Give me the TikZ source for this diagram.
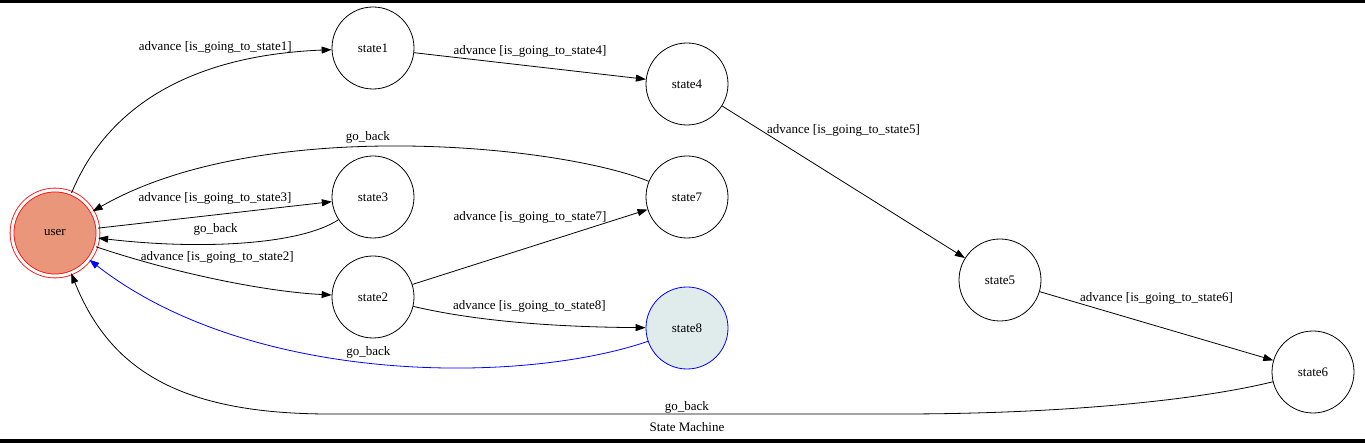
\documentclass[tikz,border=0pt]{standalone}
\usepackage{fontspec}
\setmainfont{Liberation Serif}
\usetikzlibrary{arrows.meta}
\definecolor{userfill}{RGB}{233,150,122}
\definecolor{endfill}{RGB}{224,236,236}
\newcommand{\adv}[1]{advance [is\_going\_to\_#1]}

\begin{document}
\begin{tikzpicture}[x=1pt, y=-1pt, >={Triangle[length=10pt, width=7pt]},
        font=\fontsize{13}{15}\selectfont, line width=0.8pt,
        state/.style={draw, circle, minimum size=82pt, inner sep=0pt},
        lbl/.style={inner sep=1.5pt}]
        \useasboundingbox (0,0) rectangle (1365,443);
        \fill (0,0) rectangle (1365,3);
        \fill (0,439) rectangle (1365,443);

        \node[state, minimum size=86pt, draw=red, double=white, double distance=3pt, fill=userfill] (user) at (55,233) {user};
        \node[state] (state1) at (373,48) {state1};
        \node[state] (state3) at (373,197) {state3};
        \node[state] (state2) at (373,297) {state2};
        \node[state] (state4) at (687,84) {state4};
        \node[state] (state7) at (687,197) {state7};
        \node[state, draw=blue, fill=endfill] (state8) at (687,328) {state8};
        \node[state] (state5) at (1000,280) {state5};
        \node[state] (state6) at (1313,372) {state6};

        \draw[->] (user) .. controls (110,100) and (200,55) .. (state1) node[lbl, above=13pt, pos=0.67] {\adv{state1}};
        \draw[->] (state1) -- (state4) node[lbl, above=7pt, midway] {\adv{state4}};
        \draw[->] (state4) -- (state5) node[lbl, above=44pt, midway] {\adv{state5}};
        \draw[->] (state5) -- (state6) node[lbl, above=20pt, midway] {\adv{state6}};

        \draw[->] (user) -- (state3) node[lbl, above=9pt, midway] {\adv{state3}};
        \draw[->] (state3) .. controls (300,245) and (200,250) .. (user) node[lbl, above=7pt, pos=0.6] {go\_back};
        \draw[->] (user) .. controls (180,275) and (270,292) .. (state2) node[lbl, above=14pt, pos=0.48] {\adv{state2}};

        \draw[->] (state2) -- (state7) node[lbl, above=22pt, midway] {\adv{state7}};
        \draw[->] (state2) .. controls (480,322) and (560,327) .. (state8) node[lbl, above=9pt, pos=0.53] {\adv{state8}};

        \draw[->] (state7) .. controls (560,145) and (260,115) .. (user) node[lbl, above=2pt, pos=0.55] {go\_back};
        \draw[->, blue] (state8) .. controls (520,385) and (250,385) .. (user) node[lbl, black, above=2pt, pos=0.52] {go\_back};
        \draw[->] (state6) .. controls (1190,402) and (1050,414) .. (900,414)
            -- (330,414) node[lbl, above=-1.5pt, pos=0.374] {go\_back}
            .. controls (180,414) and (110,370) .. (user);

        \node (title) at (687,427) {State Machine};
    \end{tikzpicture}
\end{document}
